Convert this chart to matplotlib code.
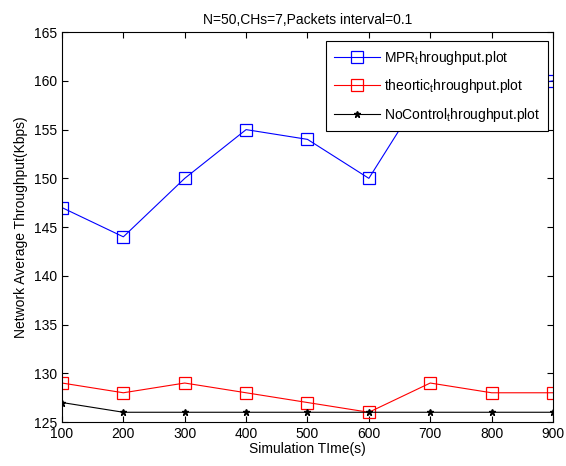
import numpy as np
import matplotlib
matplotlib.use("Agg")
from matplotlib import pyplot as plt

plt.rcParams["font.family"] = ["Liberation Sans", "DejaVu Sans"]
plt.rcParams["mathtext.fontset"] = "custom"
plt.rcParams["mathtext.rm"] = "Liberation Sans"
plt.rcParams["mathtext.it"] = "Liberation Sans"

sim_time = [100, 200, 300, 400, 500, 600, 700, 800, 900]
mpr = [147, 144, 150, 155, 154, 150, 160, 159, 160]
theoretic = [129, 128, 129, 128, 127, 126, 129, 128, 128]
no_control = [127, 126, 126, 126, 126, 126, 126, 126, 126]

fig = plt.figure(figsize=(5.66, 4.66), dpi=100)
ax = fig.add_axes([0.1095, 0.0944, 0.8675, 0.8366])

ax.plot(sim_time, mpr, "s-", color="#0000ff", mfc="none", mec="#0000ff",
        ms=8, lw=0.8, mew=0.9, label="MPR$_\\mathrm{t}$hroughput.plot")
ax.plot(sim_time, theoretic, "s-", color="#ff0000", mfc="none", mec="#ff0000",
        ms=8, lw=0.8, mew=0.9, label="theortic$_\\mathrm{t}$hroughput.plot")
ax.plot(sim_time, no_control, "*-", color="black", ms=4.5, lw=0.8,
        label="NoControl$_\\mathrm{t}$hroughput.plot")

ax.set_xlim(100, 900)
ax.set_ylim(125, 165)
ax.set_xticks(np.arange(100, 901, 100))
ax.set_yticks(np.arange(125, 166, 5))
ax.tick_params(direction="in", top=True, right=True, labelsize=10, length=4)
for s in ax.spines.values():
    s.set_linewidth(0.8)

ax.set_title("N=50,CHs=7,Packets interval=0.1", fontsize=10, pad=6)
ax.set_xlabel("Simulation TIme(s)", fontsize=10, labelpad=1)
ax.set_ylabel("Network Average Throughput(Kbps)", fontsize=10)

leg = ax.legend(loc="upper right", bbox_to_anchor=(0.99, 0.977), borderaxespad=0,
                fontsize=10, fancybox=False, framealpha=1, edgecolor="black",
                handlelength=3.3, handletextpad=0.3, labelspacing=0.75,
                borderpad=0.55)
leg.get_frame().set_linewidth(0.8)

fig.savefig("out.png", dpi=100)
